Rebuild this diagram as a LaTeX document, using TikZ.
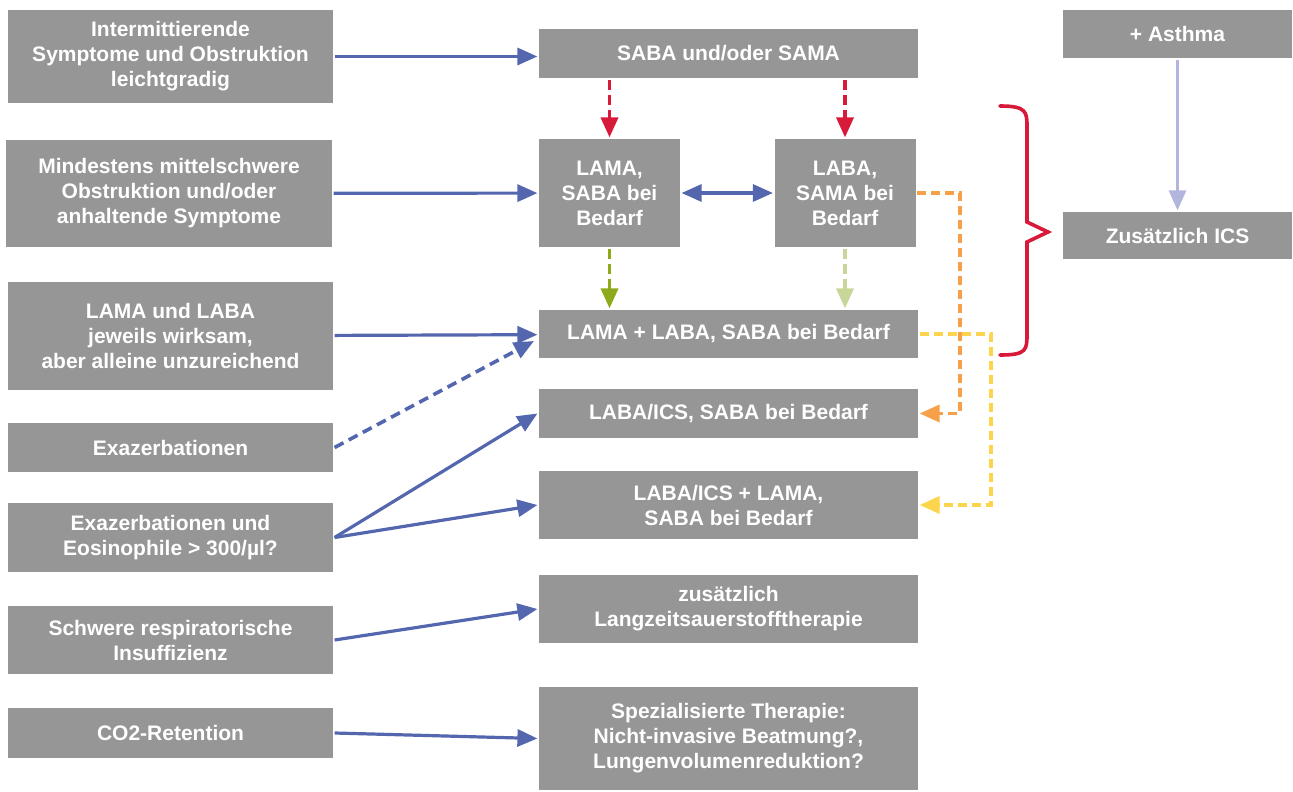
\documentclass[tikz,border=0pt]{standalone}
\usepackage{fontspec}
\setmainfont{Liberation Sans}
\usepackage{tikz}
\usetikzlibrary{arrows.meta}

\definecolor{boxgray}{RGB}{150,150,151}
\definecolor{arrowblue}{RGB}{83,102,174}
\definecolor{arrowred}{RGB}{215,25,58}
\definecolor{arroworange}{RGB}{247,160,74}
\definecolor{arrowyellow}{RGB}{253,212,78}
\definecolor{arrowgreen}{RGB}{141,170,26}
\definecolor{arrowlightgreen}{RGB}{201,214,154}
\definecolor{arrowlilac}{RGB}{179,182,220}

\begin{document}
\begin{tikzpicture}[
            x = 0.5pt, y = -0.5pt, % one unit per pixel, y downwards
            > = {Triangle[length=10pt,width=8.5pt]}, % arrow head style
            line width = 1.6pt, % line style
            box/.style = {rectangle, fill=boxgray, text=white, align=center,
                          inner sep=0pt, font=\fontsize{10.5}{12.5}\selectfont\bfseries},
            boxsize/.style 2 args = {minimum width=#1*0.5pt, minimum height=#2*0.5pt},
            bluearrow/.style = {->, draw=arrowblue},
            dashedarrow/.style = {->, line width=1.8pt, dash pattern=on 5pt off 2.5pt}
        ]
\useasboundingbox (0,0) rectangle (1293,791);

% conditions
\node[box, boxsize={325}{93}]  (sym)   at (170.5,56.5) {Intermittierende\\Symptome und Obstruktion\\leichtgradig};
\node[box, boxsize={326}{107}] (mod)   at (169,193.5)  {Mindestens mittelschwere\\Obstruktion und/oder\\anhaltende Symptome};
\node[box, boxsize={325}{108}] (wirk)  at (170.5,336)  {LAMA und LABA\\jeweils wirksam,\\aber alleine unzureichend};
\node[box, boxsize={325}{49}]  (exa)   at (170.5,447.5) {Exazerbationen};
\node[box, boxsize={325}{69}]  (eos)   at (170.5,537.5) {Exazerbationen und\\Eosinophile > 300/µl?};
\node[box, boxsize={325}{68}]  (insuf) at (170.5,640)  {Schwere respiratorische\\Insuffizienz};
\node[box, boxsize={325}{50}]  (co)    at (170.5,733)  {CO2-Retention};

% therapies
\node[box, boxsize={379}{49}]  (saba)  at (728.5,53.5) {SABA und/oder SAMA};
\node[box, boxsize={141}{108}] (lama)  at (609.5,193)  {LAMA,\\SABA bei\\Bedarf};
\node[box, boxsize={141}{108}] (laba)  at (845,193)    {LABA,\\SAMA bei\\Bedarf};
\node[box, boxsize={379}{48}]  (ll)    at (728.5,334)  {LAMA + LABA, SABA bei Bedarf};
\node[box, boxsize={379}{49}]  (lics)  at (728.5,413.5) {LABA/ICS, SABA bei Bedarf};
\node[box, boxsize={379}{68}]  (lil)   at (728.5,505)  {LABA/ICS + LAMA,\\SABA bei Bedarf};
\node[box, boxsize={379}{68}]  (ltot)  at (728.5,609)  {zusätzlich\\Langzeitsauerstofftherapie};
\node[box, boxsize={379}{103}] (spez)  at (728.5,738.5) {Spezialisierte Therapie:\\Nicht-invasive Beatmung?,\\Lungenvolumenreduktion?};

% asthma
\node[box, boxsize={229}{48}]  (asth)  at (1177.5,34)  {+ Asthma};
\node[box, boxsize={229}{47}]  (ics)   at (1177.5,235.5) {Zusätzlich ICS};

\coordinate (exaend) at (534,341);
\coordinate (obend) at (960,193);
\coordinate (ybend) at (991,334);

 \draw[bluearrow] (sym.east) -- (sym.east -| saba.west);
 \draw[bluearrow] (mod) -- (lama);
 \draw[bluearrow] (wirk) -- (ll);
 \draw[bluearrow, dashedarrow, dash pattern=on 5pt off 3pt] (exa.east) -- (exaend);
 \draw[bluearrow] (eos.east) -- (lics.west);
 \draw[bluearrow] (eos.east) -- (lil.west);
 \draw[bluearrow] (insuf.east) -- (ltot.west);
 \draw[bluearrow] (co.east) -- (spez.west);
 \draw[<->, arrowblue] (lama) -- (laba);

 \draw[dashedarrow, arrowred] (lama.north |- saba.south) -- (lama.north);
 \draw[dashedarrow, arrowred] (laba.north |- saba.south) -- (laba.north);
 \draw[dashedarrow, arrowgreen] (lama.south) -- (lama.south |- ll.north);
 \draw[dashedarrow, arrowlightgreen] (laba.south) -- (laba.south |- ll.north);
 \draw[dashedarrow, arroworange, dash pattern=on 4.5pt off 2.5pt] (laba.east) -- (obend) |- (lics.east);
 \draw[dashedarrow, arrowyellow, dash pattern=on 4.5pt off 2.5pt] (ll.east) -- (ybend) |- (lil.east);
 \draw[->, arrowlilac] (asth) -- (ics);

% brace
\draw[arrowred, line width=1.8pt, line cap=round]
    (1000,106) .. controls (1027,106) and (1027,112) .. (1027,128) -- (1027,222)
    -- (1048,232) -- (1027,242) -- (1027,333)
    .. controls (1027,350) and (1027,355) .. (1000,355);
\end{tikzpicture}
\end{document}
